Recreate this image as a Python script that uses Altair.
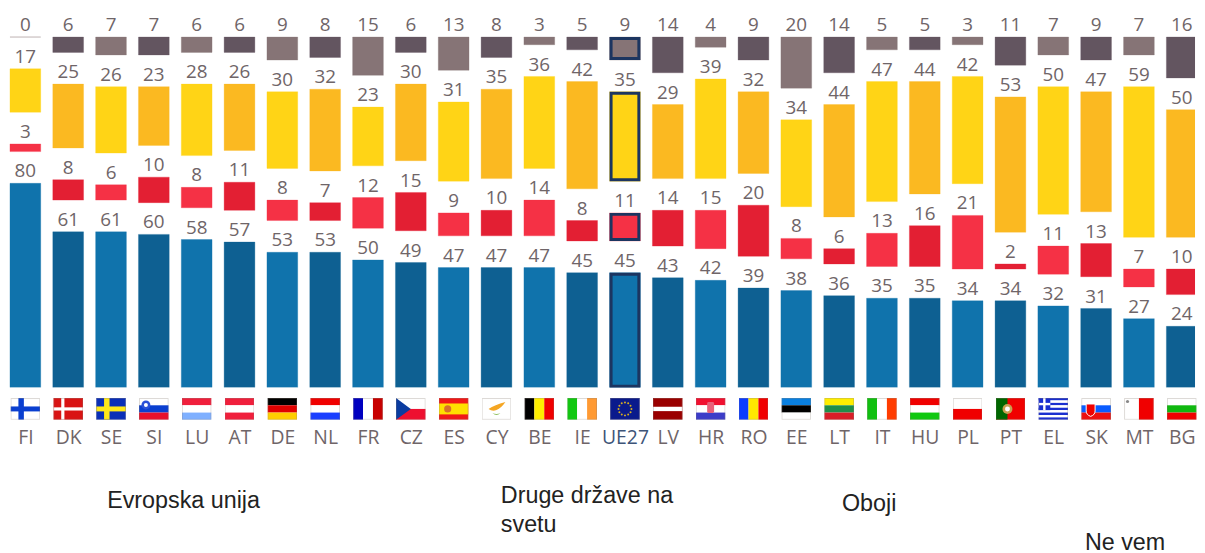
import altair as alt
import pandas as pd
import math
from urllib.parse import quote

countries = ["FI","DK","SE","SI","LU","AT","DE","NL","FR","CZ","ES","CY","BE","IE","UE27","LV","HR","RO","EE","LT","IT","HU","PL","PT","EL","SK","MT","BG"]
blue   = [80,61,61,60,58,57,53,53,50,49,47,47,47,45,45,43,42,39,38,36,35,35,34,34,32,31,27,24]
red    = [3,8,6,10,8,11,8,7,12,15,9,10,14,8,11,14,15,20,8,6,13,16,21,2,11,13,7,10]
yellow = [17,25,26,23,28,26,30,32,23,30,31,35,36,42,35,29,39,32,34,44,47,44,42,53,50,47,59,50]
grey   = [0,6,7,7,6,6,9,8,15,6,13,8,3,5,9,14,4,9,20,14,5,5,3,11,7,9,7,16]

palette = [("#1073ac", "#0e6092"), ("#f53145", "#e31f33"), ("#ffd416", "#fbb921"), ("#867476", "#635560")]
series = [blue, red, yellow, grey]
UNIT = 2.575
GAP = 32.0 / UNIT
STEP = 43.19
FIRST = 17.5
W, H = 1197, 380.5


def hbands(*cols):
    h = 22 / len(cols)
    return "".join(f'<rect y="{i*h}" width="30" height="{h}" fill="{c}"/>' for i, c in enumerate(cols))


def vbands(*cols):
    w = 30 / len(cols)
    return "".join(f'<rect x="{i*w}" width="{w}" height="22" fill="{c}"/>' for i, c in enumerate(cols))


def cross(bg, fg):
    return (f'<rect width="30" height="22" fill="{bg}"/><rect x="8" width="5.5" height="22" fill="{fg}"/>'
            f'<rect y="8.5" width="30" height="5" fill="{fg}"/>')


def eu_stars():
    return "".join(
        f'<circle cx="{15+6.5*math.cos(k*math.pi/6):.2f}" cy="{11+6.5*math.sin(k*math.pi/6):.2f}" r="1" fill="#d8b020"/>'
        for k in range(12))


greek = "".join(f'<rect y="{i*22/9:.2f}" width="30" height="{22/9:.2f}" fill="{"#1a2fd0" if i%2==0 else "#fff"}"/>' for i in range(9))
greek += '<rect width="12" height="12.2" fill="#1a2fd0"/><rect x="4.8" width="2.4" height="12.2" fill="#fff"/><rect y="4.9" width="12" height="2.4" fill="#fff"/>'

flags = {
    "FI": cross("#fff", "#0a3fd0"),
    "DK": '<rect width="30" height="22" fill="#d91414"/><rect x="8" width="3.2" height="22" fill="#fff"/><rect y="9.4" width="30" height="3.2" fill="#fff"/>',
    "SE": cross("#0a2fb8", "#ffe81a"),
    "SI": hbands("#fff", "#0a3fd0", "#e8102c") + '<circle cx="7" cy="7" r="4.5" fill="#2b50d8"/><circle cx="7" cy="7" r="2" fill="#fff"/>',
    "LU": hbands("#f01f3c", "#fff", "#7fb0ff"),
    "AT": hbands("#f01f3c", "#fff", "#f01f3c"),
    "DE": hbands("#000", "#e00000", "#ffce00"),
    "NL": hbands("#f00000", "#fff", "#1a3fff"),
    "FR": vbands("#0000c0", "#fff", "#c80000"),
    "CZ": hbands("#fff", "#ee1030") + '<path d="M0 0L15 11L0 22Z" fill="#0a3ca0"/>',
    "ES": '<rect width="30" height="22" fill="#f01818"/><rect y="5.5" width="30" height="11" fill="#ffe000"/><circle cx="9" cy="11" r="3.6" fill="#d8702a"/>',
    "CY": '<rect width="30" height="22" fill="#fff"/><path d="M7 11Q13 7 24 4Q20 10 15 12Q11 14 7 11Z" fill="#f5a623"/><path d="M11 15Q15 19 19 15Q15 17 11 15Z" fill="#8cbf5a"/>',
    "BE": vbands("#000", "#ffee00", "#f00000"),
    "IE": vbands("#10c810", "#fff", "#ff9a33"),
    "UE27": '<rect width="30" height="22" fill="#0a1a8c"/>' + eu_stars(),
    "LV": '<rect width="30" height="22" fill="#9a0000"/><rect y="8.8" width="30" height="4.4" fill="#fff"/>',
    "HR": hbands("#f01030", "#fff", "#3c3cc8") + '<rect x="11.5" y="4" width="7" height="11" rx="1.5" fill="#e8607a"/>',
    "RO": vbands("#0a3cff", "#ffe800", "#f00000"),
    "EE": hbands("#0a80e0", "#000", "#fff"),
    "LT": hbands("#ffee00", "#1f8f4a", "#d81e28"),
    "IT": vbands("#10c010", "#fff", "#ff3c00"),
    "HU": hbands("#f00000", "#fff", "#10c810"),
    "PL": hbands("#fff", "#f00000"),
    "PT": '<rect width="30" height="22" fill="#f00000"/><rect width="12" height="22" fill="#006600"/><circle cx="12" cy="11" r="5" fill="#c8a050"/><circle cx="12" cy="11" r="2.5" fill="#fff"/>',
    "EL": greek,
    "SK": hbands("#fff", "#0a5cff", "#ee1010") + '<path d="M5 6H14V13Q14 17 9.5 18.5Q5 17 5 13Z" fill="#f00000" stroke="#fff"/>',
    "MT": vbands("#fff", "#f00000") + '<circle cx="3.5" cy="3.5" r="1.6" fill="#888"/>',
    "BG": hbands("#fff", "#10b810", "#f00000"),
}


def flag_url(code):
    svg = ('<svg xmlns="http://www.w3.org/2000/svg" width="30" height="22" viewBox="0 0 30 22">'
           + flags[code] +
           '<rect x=".5" y=".5" width="29" height="21" fill="none" stroke="#8a8078" stroke-opacity=".3"/></svg>')
    return "data:image/svg+xml," + quote(svg)


HALF = 0.359
rows = []
for i, c in enumerate(countries):
    base = 0.0
    for s, vals in enumerate(series):
        v = vals[i]
        rows.append({"i": i, "a": i - HALF, "b": i + HALF, "c": c, "v": v, "y0": base, "y1": base + v, "col": palette[s][i % 2]})
        base += v + GAP
df = pd.DataFrame(rows)
flag_df = pd.DataFrame({"i": range(len(countries)), "url": [flag_url(c) for c in countries]})

x_scale = alt.Scale(domain=[-FIRST / STEP, (W - FIRST) / STEP], nice=False, zero=False)
y_scale = alt.Scale(domain=[0, H / UNIT], nice=False)
label_expr = "[" + ",".join(f"'{c}'" for c in countries) + "][round(datum.value)]"
x_axis = alt.Axis(values=list(range(len(countries))), ticks=False, domain=False, grid=False, labelAngle=0,
                  labelPadding=41, labelFontSize=19.5, labelFont="Open Sans", labelExpr=label_expr,
                  labelOverlap=False, labelFlush=False,
                  labelColor=alt.condition("datum.value == 14", alt.value("#3d5478"), alt.value("#6f6568")))

bars = alt.Chart(df).mark_rect(clip=True, strokeWidth=1, strokeOpacity=0.3).encode(
    x=alt.X("a:Q", title=None, scale=x_scale, axis=x_axis), x2="b:Q",
    y=alt.Y("y0:Q", title=None, axis=None, scale=y_scale), y2="y1:Q",
    color=alt.Color("col:N", scale=None), stroke=alt.Stroke("col:N", scale=None))

labels = alt.Chart(df).mark_text(baseline="alphabetic", dy=-6, fontSize=19, font="Open Sans", color="#6f6568").encode(
    x=alt.X("i:Q", scale=x_scale), y=alt.Y("y1:Q", scale=y_scale), text="v:Q")

ue = df[df.c == "UE27"].assign(y0i=lambda d: d.y0 + 1.5 / UNIT, y1i=lambda d: d.y1 - 1.5 / UNIT,
                               ai=lambda d: d.a + 1.5 / STEP, bi=lambda d: d.b - 1.5 / STEP)
outline = alt.Chart(ue).mark_rect(fill=None, stroke="#1c3560", strokeWidth=3).encode(
    x=alt.X("ai:Q", scale=x_scale), x2="bi:Q", y=alt.Y("y0i:Q", scale=y_scale), y2="y1i:Q")

flag_marks = alt.Chart(flag_df).mark_image(width=30, height=22, align="center", baseline="middle").encode(
    x=alt.X("i:Q", scale=x_scale), y=alt.value(402), url="url:N")

notes = pd.DataFrame({
    "t": ["Evropska unija", "Druge države na", "svetu", "Oboji", "Ne vem"],
    "px": [100, 497, 497, 841, 1086],
    "py": [502, 497, 526, 505, 544],
})
note_marks = alt.Chart(notes).mark_text(align="left", baseline="alphabetic", font="Liberation Sans", fontSize=23.5, color="#222222").encode(
    x=alt.X("px:Q", scale=None), y=alt.Y("py:Q", scale=None), text="t:N")

chart = (alt.layer(bars, outline, labels, flag_marks, note_marks)
         .properties(width=W, height=H, padding=0)
         .configure_view(stroke=None))

chart.save("out.html", embed_options={"renderer": "svg", "actions": False})
